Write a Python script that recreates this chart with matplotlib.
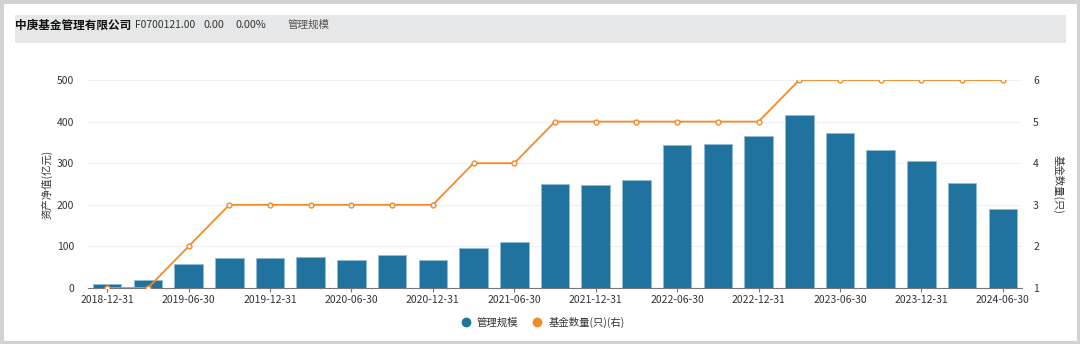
import matplotlib.pyplot as plt
from matplotlib.patches import Rectangle
from matplotlib.lines import Line2D

plt.rcParams['font.family'] = ['Noto Sans CJK SC', 'DejaVu Sans']

dates = ["2018-12-31", "2019-03-31", "2019-06-30", "2019-09-30", "2019-12-31",
         "2020-03-31", "2020-06-30", "2020-09-30", "2020-12-31", "2021-03-31",
         "2021-06-30", "2021-09-30", "2021-12-31", "2022-03-31", "2022-06-30",
         "2022-09-30", "2022-12-31", "2023-03-31", "2023-06-30", "2023-09-30",
         "2023-12-31", "2024-03-31", "2024-06-30"]
# 管理规模 (亿元)
aum = [10, 20, 58, 72, 72, 74, 67, 79, 67, 96, 110, 250, 247, 260, 343,
       346, 365, 415, 372, 332, 305, 252, 190]
# 基金数量 (只)
fund_count = [1, 1, 2, 3, 3, 3, 3, 3, 3, 4, 4, 5, 5, 5, 5, 5, 5, 6, 6, 6, 6, 6, 6]

bar_color = "#21739f"
line_color = "#f58a24"
text_color = "#333333"

fig = plt.figure(figsize=(10.8, 3.44), dpi=100)

# outer frame + header band
fig.patches.append(Rectangle((0, 0), 1, 1, transform=fig.transFigure,
                             facecolor="none", edgecolor="#d2d2d2", linewidth=5))
fig.patches.append(Rectangle((15 / 1080, 1 - 43 / 344), 1051 / 1080, 28 / 344,
                             transform=fig.transFigure, facecolor="#e6e7e8",
                             edgecolor="none"))
ty = 1 - 25 / 344
fig.text(15 / 1080, ty, "中庚基金管理有限公司", fontsize=8.4, fontweight="bold",
         color="#111111", va="center")
fig.text(135 / 1080, ty, "F0700121.00", fontsize=7.4, color=text_color, va="center")
fig.text(204 / 1080, ty, "0.00", fontsize=7.8, color=text_color, va="center")
fig.text(236 / 1080, ty, "0.00%", fontsize=7.8, color=text_color, va="center")
fig.text(288 / 1080, ty, "管理规模", fontsize=7.6, color="#555555", va="center")

ax = fig.add_axes([88 / 1080, 56 / 344, 934 / 1080, 208 / 344])
x = list(range(len(dates)))
ax.bar(x, aum, width=0.7, color=bar_color, edgecolor="#8fbcd6", linewidth=0.6, zorder=2)
ax.set_xlim(-0.47, len(dates) - 0.53)
ax.set_ylim(0, 500)
ax.set_yticks([0, 100, 200, 300, 400, 500])
ax.grid(axis="y", color="#eef0f6", linewidth=0.8, zorder=0)
ax.set_xticks(x[::2])
ax.set_xticklabels(dates[::2])
for s in ["top", "right", "left"]:
    ax.spines[s].set_visible(False)
ax.spines["bottom"].set_color("#777777")
ax.spines["bottom"].set_linewidth(0.8)
ax.tick_params(axis="x", length=3, color="#777777", labelsize=7.5, labelcolor=text_color, pad=2)
ax.tick_params(axis="y", length=0, labelsize=7.5, labelcolor=text_color, pad=10)
ax.set_ylabel("资产净值(亿元)", fontsize=7.5, color=text_color, labelpad=3)

ax2 = ax.twinx()
ax2.plot(x, fund_count, color=line_color, linewidth=1.3, marker="o", markersize=3.5,
         markerfacecolor="white", markeredgecolor=line_color, markeredgewidth=1, zorder=3)
ax2.set_ylim(1, 6)
ax2.set_yticks([1, 2, 3, 4, 5, 6])
for s in ax2.spines.values():
    s.set_visible(False)
ax2.tick_params(axis="y", length=0, labelsize=7.5, labelcolor=text_color, pad=8)
ax2.set_ylabel("基金数量(只)", fontsize=7.5, color=text_color, rotation=270, labelpad=18)

handles = [Line2D([], [], linestyle="none", marker="o", markersize=6, color=bar_color),
           Line2D([], [], linestyle="none", marker="o", markersize=6, color=line_color)]
fig.legend(handles, ["管理规模", "基金数量(只)(右)"], loc="center",
           bbox_to_anchor=(0.5, 1 - 322 / 344), ncol=2, frameon=False, fontsize=7.5,
           handletextpad=0.1, columnspacing=0.8, labelcolor=text_color)

fig.savefig("out.png", dpi=100)
